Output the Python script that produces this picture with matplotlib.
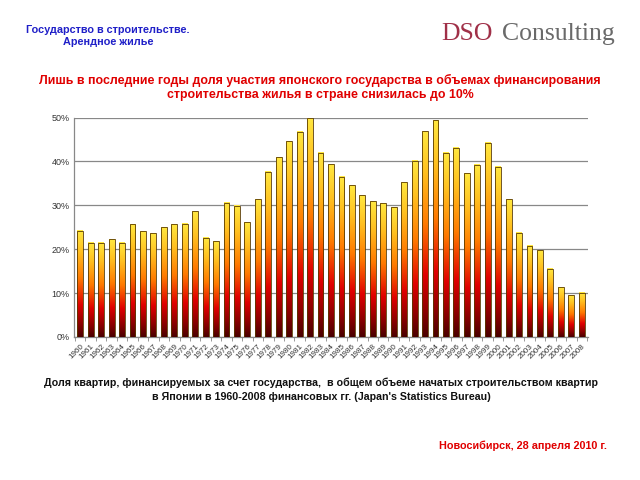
import numpy as np
import matplotlib
matplotlib.use("Agg")
import matplotlib.pyplot as plt
from matplotlib.colors import LinearSegmentedColormap
from matplotlib.patches import Rectangle

years = list(range(1960, 2009))
share = [24.2, 21.5, 21.5, 22.3, 21.5, 25.7, 24.1, 23.6, 25.0, 25.7,
         25.8, 28.7, 22.6, 21.8, 30.6, 29.9, 26.1, 31.4, 37.6, 40.9,
         44.6, 46.8, 50.0, 42.0, 39.3, 36.5, 34.6, 32.3, 30.9, 30.5,
         29.6, 35.3, 40.2, 46.9, 49.4, 42.0, 43.1, 37.3, 39.2, 44.2,
         38.8, 31.4, 23.8, 20.8, 19.8, 15.5, 11.3, 9.5, 10.1]
yticks = [0, 10, 20, 30, 40, 50]

plt.rcParams['font.family'] = ['Liberation Sans', 'DejaVu Sans']

fig = plt.figure(figsize=(6.4, 4.8), dpi=100)
ax = fig.add_axes([74/640, 1-337/480, (588-74)/640, (337-117.5)/480])

cmap = LinearSegmentedColormap.from_list("fire", [
    (0.0, "#4a0000"), (0.12, "#8a0000"), (0.3, "#e00000"),
    (0.55, "#ff7a00"), (0.8, "#ffc020"), (1.0, "#ffe840")])
grad = np.linspace(0, 1, 256).reshape(-1, 1)
w = 0.56
for i, v in enumerate(share):
    ax.imshow(grad, cmap=cmap, origin='lower', aspect='auto',
              extent=(i - w/2, i + w/2, 0, v), zorder=3, interpolation='bilinear')
    ax.add_patch(Rectangle((i - w/2, 0), w, v, fill=False, edgecolor="#5a3a00",
                           linewidth=0.6, zorder=4))

ax.set_xlim(-0.6, len(years) - 0.4)
ax.set_ylim(0, 50)
ax.set_yticks(yticks)
ax.set_yticklabels([f"{t}%" for t in yticks], fontsize=6.5, color="#333333")
ax.yaxis.grid(True, color="#888888", linewidth=0.9, zorder=1)
ax.tick_params(axis='y', length=0, pad=3)
ax.set_xticks(range(len(years)))
ax.set_xticklabels([str(y) for y in years], rotation=45, ha='right', va='top',
                   rotation_mode='anchor', fontsize=5.8, color="#333333")
ax.tick_params(axis='x', which='major', length=0, pad=4)
ax.set_xticks(np.arange(-0.5, len(years), 1), minor=True)
ax.tick_params(axis='x', which='minor', length=3, color="#888888", direction='out')
for s in ['top', 'right']:
    ax.spines[s].set_visible(False)
for s in ['left', 'bottom']:
    ax.spines[s].set_color("#888888")
    ax.spines[s].set_linewidth(0.9)
ax.set_axisbelow(True)

fig.text(108/640, 1-30/480, "Государство в строительстве.", ha='center', va='center',
         fontsize=7.8, color="#2020c8", fontweight='bold')
fig.text(108/640, 1-42/480, "Арендное жилье", ha='center', va='center',
         fontsize=7.8, color="#2020c8", fontweight='bold')

fig.text(441/640, 1-34/480, "DSO", ha='left', va='center', fontsize=18.5,
         color="#a03048", family='Liberation Serif')
fig.text(502/640, 1-34/480, "Consulting", ha='left', va='center', fontsize=18.5,
         color="#6a6a6a", family='Liberation Serif')

fig.text(320/640, 1-80/480,
         "Лишь в последние годы доля участия японского государства в объемах финансирования",
         ha='center', va='center', fontsize=8.9, color="#e00000", fontweight='bold')
fig.text(320/640, 1-95/480, "строительства жилья в стране снизилась до 10%",
         ha='center', va='center', fontsize=8.9, color="#e00000", fontweight='bold')

fig.text(321/640, 1-383/480,
         "Доля квартир, финансируемых за счет государства,  в общем объеме начатых строительством квартир",
         ha='center', va='center', fontsize=7.7, color="#111111", fontweight='bold')
fig.text(321/640, 1-397/480,
         "в Японии в 1960-2008 финансовых гг. (Japan's Statistics Bureau)",
         ha='center', va='center', fontsize=7.7, color="#111111", fontweight='bold')

fig.text(607/640, 1-446/480, "Новосибирск, 28 апреля 2010 г.", ha='right', va='center',
         fontsize=7.8, color="#e00000", fontweight='bold')

fig.savefig("out.png", dpi=100)
